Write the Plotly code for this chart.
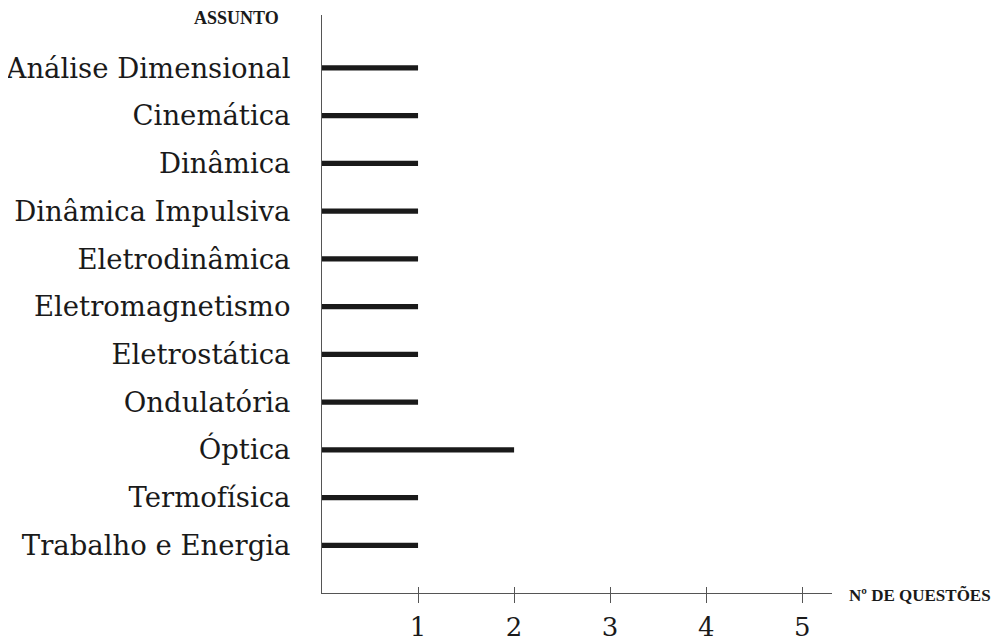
import plotly.graph_objects as go

assuntos = ["Análise Dimensional", "Cinemática", "Dinâmica", "Dinâmica Impulsiva",
            "Eletrodinâmica", "Eletromagnetismo", "Eletrostática", "Ondulatória",
            "Óptica", "Termofísica", "Trabalho e Energia"]
questoes = [1, 1, 1, 1, 1, 1, 1, 1, 2, 1, 1]
ticks_x = [1, 2, 3, 4, 5]

serif = "DejaVu Serif"
bold_serif = "Liberation Serif"
axis_col = "#555555"

fig = go.Figure()
fig.add_trace(go.Bar(
    x=questoes, y=assuntos, orientation="h",
    width=0.11, marker=dict(color="#1a1a1a", line=dict(width=0)),
    xaxis="x", yaxis="y"
))
# second axis, just to get the tick marks above the axis line too
fig.add_trace(go.Scatter(x=[], y=[], xaxis="x2", yaxis="y", showlegend=False))

fig.update_layout(
    width=1006, height=643,
    margin=dict(l=314, r=182, t=7, b=58),
    plot_bgcolor="white", paper_bgcolor="white",
    showlegend=False,
    font=dict(family=serif, color="#1a1a1a"),
    xaxis=dict(range=[0, 5.31], tickvals=ticks_x, showgrid=False, zeroline=False,
               showline=True, linecolor=axis_col, linewidth=1, automargin=False,
               ticks="outside", ticklen=9, tickcolor=axis_col, tickwidth=1,
               ticklabelstandoff=2, tickfont=dict(size=26, family=serif)),
    xaxis2=dict(range=[0, 5.31], tickvals=ticks_x, overlaying="x", anchor="y",
                side="bottom", showgrid=False, zeroline=False, showline=False,
                ticks="inside", ticklen=6, tickcolor=axis_col, tickwidth=1,
                showticklabels=False, automargin=False),
    yaxis=dict(type="category", categoryorder="array", categoryarray=assuntos,
               range=[11.0, -1.11], showgrid=False, zeroline=False, automargin=False,
               showline=True, linecolor=axis_col, linewidth=1, ticks="",
               ticklabelstandoff=25, tickfont=dict(size=27.5, family=serif)),
    annotations=[
        dict(text="<b>ASSUNTO</b>", xref="x", x=0, xanchor="right", xshift=-41,
             yref="paper", y=1, yanchor="middle", yshift=-3, showarrow=False,
             font=dict(size=18, family=bold_serif)),
        dict(text="<b>Nº DE QUESTÕES</b>", xref="paper", x=1, xanchor="left", xshift=15,
             yref="paper", y=0, yanchor="middle", yshift=-2, showarrow=False,
             font=dict(size=17, family=bold_serif)),
    ],
)

fig.write_html("out.html")
